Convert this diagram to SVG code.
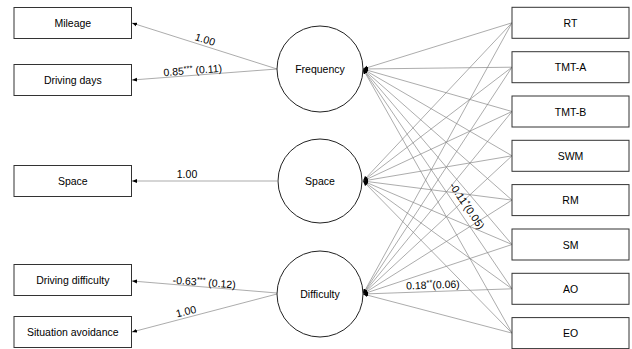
<svg xmlns="http://www.w3.org/2000/svg" width="632" height="349" viewBox="0 0 632 349">
<style>
.box{fill:#fff;stroke:#333;stroke-width:1}
.lat{fill:#fff;stroke:#222;stroke-width:1}
.t{font-family:"Liberation Sans",Arial,sans-serif;font-size:10.5px;fill:#000;text-anchor:middle;dominant-baseline:central}
.lb{font-family:"Liberation Sans",Arial,sans-serif;font-size:10.5px;fill:#000;text-anchor:middle}
.sup{font-size:7.5px}
.c{stroke:#888;stroke-width:0.7;fill:none;marker-end:url(#ah)}
</style>
<defs>
<marker id="ah" viewBox="0 0 10 10" refX="10" refY="5" markerWidth="5" markerHeight="5" markerUnits="userSpaceOnUse" orient="auto">
<path d="M0,1 L10,5 L0,9 z" fill="#000"/>
</marker>
</defs>
<g id="connectors">
<line class="c" x1="277" y1="69" x2="132" y2="23"/>
<line class="c" x1="277" y1="69" x2="132" y2="80"/>
<line class="c" x1="277" y1="181" x2="132" y2="181"/>
<line class="c" x1="277" y1="293" x2="132" y2="281"/>
<line class="c" x1="277" y1="294" x2="132" y2="332"/>
<g id="paths-right">
<line class="c" x1="512" y1="22.8" x2="363" y2="69"/>
<line class="c" x1="512" y1="67.2" x2="363" y2="69"/>
<line class="c" x1="512" y1="111.5" x2="363" y2="69"/>
<line class="c" x1="512" y1="155.8" x2="363" y2="69"/>
<line class="c" x1="512" y1="200.1" x2="363" y2="69"/>
<line class="c" x1="512" y1="244.5" x2="363" y2="69"/>
<line class="c" x1="512" y1="288.8" x2="363" y2="69"/>
<line class="c" x1="512" y1="333.1" x2="363" y2="69"/>
<line class="c" x1="512" y1="22.8" x2="363" y2="181"/>
<line class="c" x1="512" y1="67.2" x2="363" y2="181"/>
<line class="c" x1="512" y1="111.5" x2="363" y2="181"/>
<line class="c" x1="512" y1="155.8" x2="363" y2="181"/>
<line class="c" x1="512" y1="200.1" x2="363" y2="181"/>
<line class="c" x1="512" y1="244.5" x2="363" y2="181"/>
<line class="c" x1="512" y1="288.8" x2="363" y2="181"/>
<line class="c" x1="512" y1="333.1" x2="363" y2="181"/>
<line class="c" x1="512" y1="22.8" x2="363" y2="294"/>
<line class="c" x1="512" y1="67.2" x2="363" y2="294"/>
<line class="c" x1="512" y1="111.5" x2="363" y2="294"/>
<line class="c" x1="512" y1="155.8" x2="363" y2="294"/>
<line class="c" x1="512" y1="200.1" x2="363" y2="294"/>
<line class="c" x1="512" y1="244.5" x2="363" y2="294"/>
<line class="c" x1="512" y1="288.8" x2="363" y2="294"/>
<line class="c" x1="512" y1="333.1" x2="363" y2="294"/>
</g>
<g id="labels">
<text class="lb" transform="translate(204,43) rotate(17.6)">1.00</text>
<text class="lb" transform="translate(193,74) rotate(-4.3)">0.85<tspan class="sup" dy="-3.5">***</tspan><tspan dy="3.5"> (0.11)</tspan></text>
<text class="lb" x="187" y="178">1.00</text>
<text class="lb" transform="translate(204,286) rotate(4.3)">-0.63<tspan class="sup" dy="-3.5">***</tspan><tspan dy="3.5"> (0.12)</tspan></text>
<text class="lb" transform="translate(187,315) rotate(-14.7)">1.00</text>
<text class="lb" transform="translate(433,288.5) rotate(-2)">0.18<tspan class="sup" dy="-3.5">**</tspan><tspan dy="3.5">(0.06)</tspan></text>
<text class="lb" transform="translate(464,208) rotate(55.9)">-0.11<tspan class="sup" dy="-3.5">*</tspan><tspan dy="3.5">(0.05)</tspan></text>
</g>
</g>
<g id="mileage"><rect class="box" x="14" y="7.5" width="117.5" height="31"/><text class="t" x="72.8" y="23">Mileage</text></g>
<g id="driving-days"><rect class="box" x="14" y="64.5" width="117.5" height="31"/><text class="t" x="72.8" y="80">Driving days</text></g>
<g id="space-obs"><rect class="box" x="14" y="165.5" width="117.5" height="31"/><text class="t" x="72.8" y="181">Space</text></g>
<g id="driving-difficulty"><rect class="box" x="14" y="264.5" width="117.5" height="31"/><text class="t" x="72.8" y="280">Driving difficulty</text></g>
<g id="situation-avoidance"><rect class="box" x="14" y="316.5" width="117.5" height="31"/><text class="t" x="72.8" y="332">Situation avoidance</text></g>
<g id="frequency"><circle class="lat" cx="320" cy="69" r="43"/><text class="t" x="320" y="69">Frequency</text></g>
<g id="space"><circle class="lat" cx="320" cy="181" r="42"/><text class="t" x="320" y="181">Space</text></g>
<g id="difficulty"><circle class="lat" cx="320" cy="294" r="43"/><text class="t" x="320" y="294">Difficulty</text></g>
<g id="rt"><rect class="box" x="512" y="7.3" width="117" height="31"/><text class="t" x="570.5" y="22.8">RT</text></g>
<g id="tmt-a"><rect class="box" x="512" y="51.7" width="117" height="31"/><text class="t" x="570.5" y="67.2">TMT-A</text></g>
<g id="tmt-b"><rect class="box" x="512" y="96" width="117" height="31"/><text class="t" x="570.5" y="111.5">TMT-B</text></g>
<g id="swm"><rect class="box" x="512" y="140.3" width="117" height="31"/><text class="t" x="570.5" y="155.8">SWM</text></g>
<g id="rm"><rect class="box" x="512" y="184.6" width="117" height="31"/><text class="t" x="570.5" y="200.1">RM</text></g>
<g id="sm"><rect class="box" x="512" y="229" width="117" height="31"/><text class="t" x="570.5" y="244.5">SM</text></g>
<g id="ao"><rect class="box" x="512" y="273.3" width="117" height="31"/><text class="t" x="570.5" y="288.8">AO</text></g>
<g id="eo"><rect class="box" x="512" y="317.6" width="117" height="31"/><text class="t" x="570.5" y="333.1">EO</text></g>
</svg>
